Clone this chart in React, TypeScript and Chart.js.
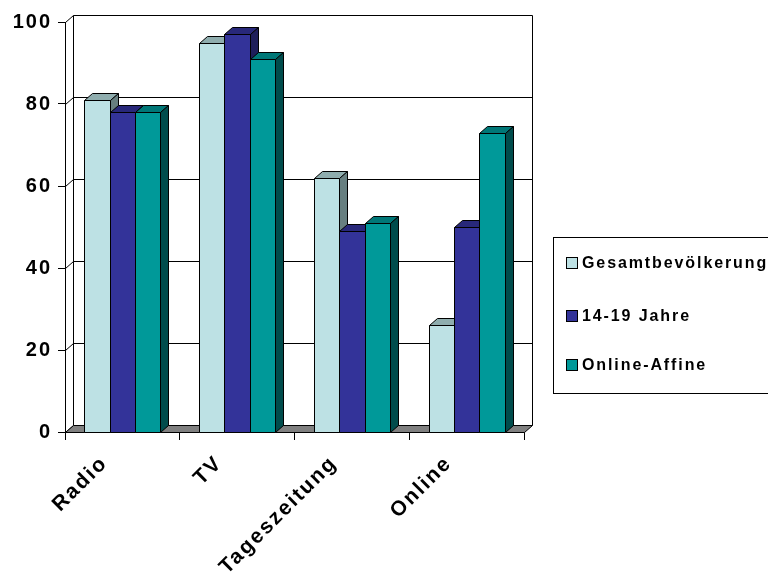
import React, { useEffect, useRef } from 'react';
import { Chart, registerables } from 'chart.js';

Chart.register(...registerables);

const categories = ['Radio', 'TV', 'Tageszeitung', 'Online'];
const seriesLabels = ['Gesamtbevölkerung', '14-19 Jahre', 'Online-Affine'];
const gesamt = [81, 95, 62, 26];
const jugend = [78, 97, 49, 50];
const affine = [78, 91, 51, 73];
const yTicks = [0, 20, 40, 60, 80, 100];

const FRONT = ['#BDE1E4', '#333399', '#009999'];
const TOP = ['#8FADAE', '#28287A', '#007777'];
const SIDE = ['#677F80', '#1E1E5A', '#004C4C'];
const DX = 8;
const DY = 7;
const FONT = '"Liberation Sans", Arial, sans-serif';

const h = (v: number) => Math.round(v) + 0.5;

const threeD = {
  id: 'threeD',
  beforeLayout(chart: any) {
    chart.ctx.letterSpacing = '2px';
  },
  beforeDraw(chart: any) {
    chart.ctx.letterSpacing = '2px';
  },
  beforeDatasetsDraw(chart: any) {
    const { ctx, chartArea, scales } = chart;
    const { left, right } = chartArea;
    const y = scales.y;
    const line = (x1: number, y1: number, x2: number, y2: number) => {
      ctx.beginPath();
      ctx.moveTo(x1, y1);
      ctx.lineTo(x2, y2);
      ctx.stroke();
    };
    ctx.save();
    ctx.strokeStyle = '#000';
    ctx.lineWidth = 1;
    const b = y.getPixelForValue(0);
    const tp = y.getPixelForValue(100);
    line(h(left + DX), h(tp - DY), h(left + DX), h(b - DY));
    line(h(right + DX), h(tp - DY), h(right + DX), h(b - DY));
    y.ticks.forEach((t: any) => {
      const py = y.getPixelForValue(t.value);
      line(h(left), h(py), h(left + DX), h(py - DY));
      if (t.value > 0) line(h(left + DX), h(py - DY), h(right + DX), h(py - DY));
    });
    ctx.fillStyle = '#808080';
    ctx.beginPath();
    ctx.moveTo(h(left), h(b));
    ctx.lineTo(h(right), h(b));
    ctx.lineTo(h(right + DX), h(b - DY));
    ctx.lineTo(h(left + DX), h(b - DY));
    ctx.closePath();
    ctx.fill();
    ctx.stroke();
    ctx.restore();
  },
  afterDatasetsDraw(chart: any) {
    const { ctx } = chart;
    ctx.save();
    ctx.strokeStyle = '#000';
    ctx.lineWidth = 1;
    ctx.lineJoin = 'miter';
    const poly = (pts: number[][], fill: string) => {
      ctx.beginPath();
      pts.forEach((p, k) => (k ? ctx.lineTo(p[0], p[1]) : ctx.moveTo(p[0], p[1])));
      ctx.closePath();
      ctx.fillStyle = fill;
      ctx.fill();
      ctx.stroke();
    };
    const n = chart.data.labels.length;
    for (let c = 0; c < n; c++) {
      chart.data.datasets.forEach((_ds: any, i: number) => {
        const el = chart.getDatasetMeta(i).data[c];
        if (!el) return;
        const { x, y, base, width } = el.getProps(['x', 'y', 'base', 'width'], true);
        const l = h(x - width / 2);
        const r = h(x + width / 2);
        const yt = h(y);
        const yb = h(base);
        poly([[l, yt], [r, yt], [r + DX, yt - DY], [l + DX, yt - DY]], TOP[i]);
        poly([[r, yt], [r + DX, yt - DY], [r + DX, yb - DY], [r, yb]], SIDE[i]);
        poly([[l, yt], [r, yt], [r, yb], [l, yb]], FRONT[i]);
      });
    }
    ctx.restore();
  },
  afterDraw(chart: any) {
    const { ctx } = chart;
    ctx.save();
    ctx.letterSpacing = '1.9px';
    ctx.strokeStyle = '#000';
    ctx.lineWidth = 1;
    ctx.strokeRect(553.5, 237.5, 240, 156);
    const ys = [263, 316, 365];
    chart.data.datasets.forEach((ds: any, k: number) => {
      const cy = ys[k];
      ctx.fillStyle = FRONT[k];
      ctx.fillRect(566.5, cy - 5.5, 11, 11);
      ctx.strokeRect(566.5, cy - 5.5, 11, 11);
      ctx.fillStyle = '#000';
      ctx.font = `bold 16px ${FONT}`;
      ctx.textBaseline = 'middle';
      ctx.textAlign = 'left';
      ctx.fillText(ds.label, 582, cy + 1);
    });
    ctx.restore();
  },
};

export default function App() {
  const ref = useRef<HTMLCanvasElement | null>(null);
  useEffect(() => {
    if (!ref.current) return;
    const datasets = [gesamt, jugend, affine].map((d, i) => ({
      label: seriesLabels[i],
      data: d,
      backgroundColor: 'rgba(0,0,0,0)',
      borderColor: 'rgba(0,0,0,0)',
      borderWidth: 0,
      borderSkipped: false,
      categoryPercentage: 0.662,
      barPercentage: 1.0,
    }));
    const chart = new Chart(ref.current, {
      type: 'bar',
      data: { labels: categories, datasets },
      plugins: [threeD],
      options: {
        responsive: false,
        animation: false,
        layout: { padding: { left: 0, top: 22, right: 244, bottom: 0 } },
        plugins: { legend: { display: false }, tooltip: { enabled: false } },
        font: { family: FONT },
        scales: {
          x: {
            grid: { display: true, drawOnChartArea: false, drawTicks: true, tickLength: 8, color: '#000', offset: true },
            border: { display: true, color: '#000' },
            ticks: {
              maxRotation: 45,
              minRotation: 45,
              labelOffset: -18,
              padding: 11,
              color: '#000',
              font: { family: FONT, size: 21, weight: 'bold' },
            },
            afterFit: (s: any) => {
              s.height = 140;
            },
          },
          y: {
            min: 0,
            max: 100,
            afterBuildTicks: (s: any) => {
              s.ticks = yTicks.map((v) => ({ value: v }));
            },
            grid: { display: true, drawOnChartArea: false, drawTicks: true, tickLength: 7, color: '#000' },
            border: { display: true, color: '#000' },
            ticks: {
              padding: 6,
              color: '#000',
              font: { family: FONT, size: 20, weight: 'bold' },
            },
            afterFit: (s: any) => {
              s.width = 65;
            },
          },
        },
      } as any,
    });
    return () => chart.destroy();
  }, []);
  return (
    <canvas
      ref={ref}
      width={768}
      height={572}
      style={{ position: 'fixed', left: 0, top: 0, width: 768, height: 572, background: '#fff' }}
    />
  );
}
